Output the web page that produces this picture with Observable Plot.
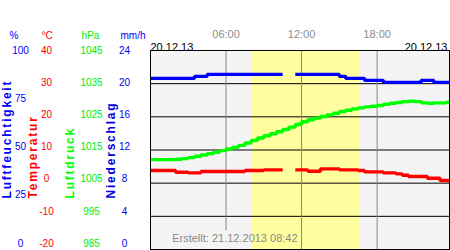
<!DOCTYPE html>
<html><head><meta charset="utf-8">
<script src="https://cdn.jsdelivr.net/npm/d3@7"></script>
<script src="https://cdn.jsdelivr.net/npm/@observablehq/plot@0.6"></script>
<style>
html,body{margin:0;padding:0;background:#fff;}
#wrap{position:relative;width:450px;height:250px;overflow:hidden;}
#left{position:absolute;left:0;top:0;}
#main{position:absolute;left:149px;top:0;}
</style></head><body><div id="wrap"><div id="left"></div><div id="main"></div></div>
<script>
// half-hourly readings (hours since midnight), last reading at the right edge
const hours = [...d3.range(0, 24, 0.5), 23.75];
const humidity = [86,86,86,86,86,86,86, 87,87,
  88,88,88,88,88,88,88,88,88,88,88,88,88,
  null,
  88,88,88,88,88,88,88,
  87, 86,86,86, 85,85,85, 84,84,84,84,84,84, 85,85, 84,84,84,84];
const temperature = [3.8,3.8,3.8,3.8,3.3,3.3,3.1,3.1,3.5,3.5,3.5,3.5,3.5,3.5,3.5,3.8,3.8,3.8,4.0,4.0,4.0,4.0,
  null,
  4.0,4.0,3.6,3.6,4.3,4.3,4.3,4.0,4.0,4.0,3.8,3.4,3.4,3.4,3.1,3.1,2.8,2.4,2.0,2.0,2.0,1.5,1.5,0.8,0.8,0.8];
const pressure = [1012.1,1012.1,1012.1,1012.1,1012.2,1012.4,1012.7,1013.1,1013.5,1013.9,1014.3,1014.8,
  1015.3,1015.8,1016.4,1017.1,1017.9,1018.6,1019.3,1019.9,1020.5,1021.2,1021.9,1022.7,
  1023.5,1024.1,1024.6,1025.1,1025.6,1026.1,1026.6,1027.0,1027.4,1027.7,1028.0,1028.2,
  1028.4,1028.8,1029.1,1029.3,1029.6,1029.7,1029.6,1029.2,1029.1,1029.2,1029.2,1029.4,1029.4];
const sunrise = 8.07, sunset = 16.6;
const timeTicks = [6, 12, 18];
const timeLabels = ["06:00", "12:00", "18:00"];
const dateLeft = "20.12.13", dateRight = "20.12.13";
const created = "Erstellt: 21.12.2013 08:42";
const humTicks = [100, 75, 50, 25, 0];
const tempTicks = [40, 30, 20, 10, 0, -10, -20];
const presTicks = [1045, 1035, 1025, 1015, 1005, 995, 985];
const precTicks = [24, 20, 16, 12, 8, 4, 0];
const units = ["%", "°C", "hPa", "mm/h"];
const titles = ["Luftfeuchtigkeit", "Temperatur", "Luftdruck", "Niederschlag"];
const gridTemps = [-10, 0, 10, 20, 30];

// conversions onto the shared temperature-based y scale (-20..40)
const fromHum = h => h * 0.6 - 20;
const fromPres = p => p - 1005;
const fromPrec = m => m * 2.5 - 20;

const rows = hours.map((t, i) => ({t, hum: humidity[i], temp: temperature[i], pres: pressure[i]}));

const font = "'Liberation Sans', Arial, sans-serif";
const BLUE = "#0000ff", RED = "#ff0000", GREEN = "#00ee00";

const lineOpts = {x: "t", strokeWidth: 3.4, curve: "step-after", strokeLinecap: "butt", strokeLinejoin: "miter"};

const main = Plot.plot({
  width: 301, height: 250,
  marginLeft: 1, marginRight: 1, marginTop: 50, marginBottom: 1,
  x: {domain: [0, 23.75], axis: null},
  y: {domain: [-20, 40], axis: null},
  style: {fontFamily: font, background: "transparent", overflow: "visible"},
  marks: [
    Plot.frame({fill: "#f4f4f4", stroke: "none"}),
    Plot.rect([{rise: sunrise, set: sunset}], {x1: "rise", x2: "set", fill: "#ffff9f"}),
    Plot.ruleY(gridTemps, {stroke: "#000", strokeWidth: 1}),
    Plot.ruleX(timeTicks.filter(t => t !== 6), {stroke: "#888", strokeWidth: 1}),
    Plot.ruleX(timeTicks.filter(t => t === 6), {stroke: "#888", strokeWidth: 1, insetBottom: 19}),
    Plot.line(rows, {...lineOpts, y: d => d.pres == null ? NaN : fromPres(d.pres), stroke: "#00ff00"}),
    Plot.line(rows, {...lineOpts, y: d => d.temp == null ? NaN : d.temp, stroke: RED}),
    Plot.line(rows, {...lineOpts, y: d => d.hum == null ? NaN : fromHum(d.hum), stroke: BLUE}),
    Plot.frame({stroke: "#000", strokeWidth: 1}),
    Plot.text(timeTicks, {x: d => d, text: (d, i) => timeLabels[i], frameAnchor: "top", dy: -20.5, fill: "#8c8c8c", fontSize: 11}),
    Plot.text([dateLeft], {x: () => 0, text: d => d, frameAnchor: "top", textAnchor: "start", dy: -7, fill: "#000", fontSize: 11}),
    Plot.text([dateRight], {x: () => 23.75, text: d => d, frameAnchor: "top", textAnchor: "end", dx: -2, dy: -7, fill: "#000", fontSize: 11}),
    Plot.text([created], {x: () => 12, text: d => d, frameAnchor: "bottom", textAnchor: "end", dx: -4, dy: -8, fill: "#888", fontSize: 11})
  ]
});
document.getElementById("main").appendChild(main);

const tick = (values, conv, dx, fill) =>
  Plot.text(values, {y: conv, text: d => String(d), frameAnchor: "left", dx, textAnchor: "middle", fill, fontSize: 10});
const head = (label, dx, fill) =>
  Plot.text([label], {text: d => d, frameAnchor: "top-left", dx, dy: -19, textAnchor: "middle", fill, fontSize: 10});
const title = (label, dx, fill) =>
  Plot.text([label], {text: d => d, frameAnchor: "bottom-left", dx, dy: -45, rotate: -90, textAnchor: "start", fill, fontSize: 12, fontWeight: "bold"});

const left = Plot.plot({
  width: 150, height: 250,
  marginLeft: 0, marginRight: 0, marginTop: 50, marginBottom: 7,
  y: {domain: [-20, 40], axis: null},
  style: {fontFamily: font, background: "transparent", overflow: "visible"},
  marks: [
    head(units[0], 13.5, BLUE), head(units[1], 46.5, RED), head(units[2], 90, GREEN), head(units[3], 132.5, "#0000ee"),
    tick(humTicks, fromHum, 20, BLUE),
    tick(tempTicks, d => d, 46, RED),
    tick(presTicks, fromPres, 91, GREEN),
    tick(precTicks, fromPrec, 124, "#0000ee"),
    title(titles[0], 10, BLUE),
    title(titles[1], 36.5, RED),
    title(titles[2], 73, "#00ff00"),
    title(titles[3], 114.5, "#0000dd")
  ]
});
d3.select(left).selectAll("text").filter(function() { return titles.includes(this.textContent); })
  .attr("letter-spacing", "1.8px");
document.getElementById("left").appendChild(left);
</script>
</body></html>
